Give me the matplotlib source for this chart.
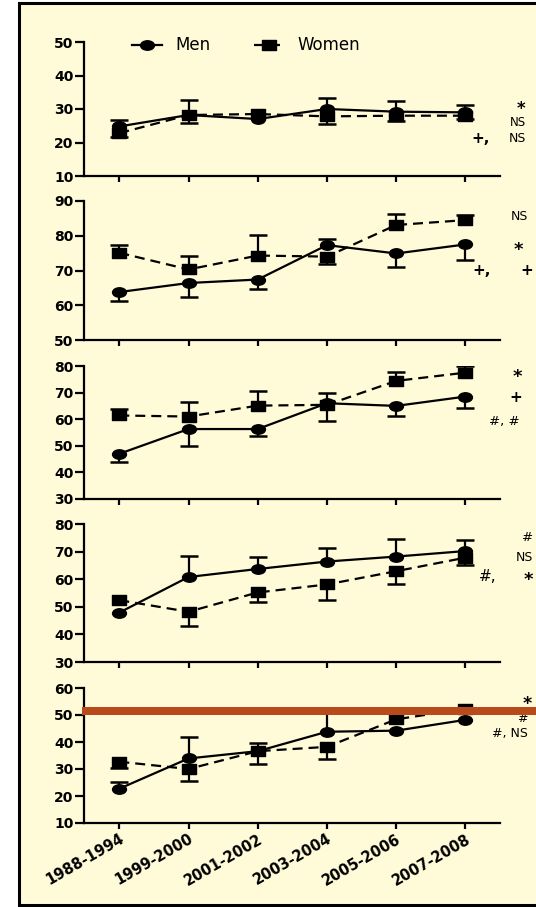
import matplotlib
matplotlib.use('Agg')
import matplotlib.pyplot as plt
import numpy as np
from matplotlib.path import Path
from matplotlib.patches import Rectangle

periods = ['1988-1994', '1999-2000', '2001-2002', '2003-2004', '2005-2006', '2007-2008']

# panel 1
men_a = [24.8, 28.2, 27.0, 30.0, 29.2, 29.0]
men_a_lo = [0, 0, 0, 0, 0, 0]
men_a_hi = [2.0, 4.4, 0, 3.4, 3.3, 2.3]
women_a = [22.8, 28.2, 28.5, 27.8, 28.0, 28.0]
women_a_lo = [1.3, 2.4, 0, 2.4, 1.7, 1.1]
women_a_hi = [0, 0, 0, 0, 0, 0]

# panel 2
men_b = [63.8, 66.4, 67.4, 77.3, 74.9, 77.5]
men_b_lo = [2.6, 4.0, 2.8, 0, 3.8, 4.5]
men_b_hi = [0, 0, 0, 1.9, 0, 0]
women_b = [75.1, 70.3, 74.3, 74.0, 83.1, 84.5]
women_b_lo = [0, 0, 0, 2.2, 0, 0]
women_b_hi = [2.2, 3.9, 5.9, 0, 3.2, 1.5]

# panel 3
men_c = [47.0, 56.3, 56.3, 66.0, 65.0, 68.5]
men_c_lo = [3.0, 6.5, 2.8, 6.5, 3.7, 4.4]
men_c_hi = [0, 0, 0, 0, 0, 0]
women_c = [61.4, 61.0, 65.1, 65.4, 74.4, 77.5]
women_c_lo = [0, 0, 0, 0, 0, 0]
women_c_hi = [2.4, 5.3, 5.6, 4.6, 3.5, 2.5]

# panel 4
men_d = [47.9, 60.8, 63.7, 66.4, 68.2, 70.2]
men_d_lo = [0, 0, 0, 0, 0, 0]
men_d_hi = [0, 7.6, 4.5, 4.8, 6.3, 4.0]
women_d = [52.4, 48.2, 55.2, 58.1, 62.9, 67.8]
women_d_lo = [0, 5.2, 3.4, 5.7, 4.7, 2.7]
women_d_hi = [0, 0, 0, 0, 0, 0]

# panel 5
men_e = [22.7, 33.9, 36.6, 43.8, 44.2, 48.2]
men_e_lo = [0, 0, 0, 0, 0, 0]
men_e_hi = [2.5, 8.1, 3.2, 8.5, 0, 0]
women_e = [32.7, 30.0, 36.6, 38.2, 48.4, 52.3]
women_e_lo = [2.5, 4.6, 4.6, 4.6, 0, 0]
women_e_hi = [0, 0, 0, 0, 0, 0]

ylims = [(10, 50), (50, 90), (30, 80), (30, 80), (10, 60)]
# significance marks: text, y value, right edge px, size, bold
notes = [
    [('*', 29.9, 525, 12, True), ('NS', 26.1, 526, 8.5, False),
     ('NS', 21.3, 526, 9, False), ('+,', 21.3, 490, 11, True)],
    [('NS', 85.4, 528, 9, False), ('*', 76.0, 523, 13, True),
     ('+,', 70.1, 491, 11, True), ('+', 70.1, 533, 11, True)],
    [('*', 76.0, 522, 13, True), ('+', 68.3, 522, 11, True), ('#, #', 59.0, 520, 9.5, False)],
    [('#', 75.2, 533, 9.5, False), ('NS', 68.0, 533, 9, False),
     ('*', 59.8, 533, 13, True), ('#,', 60.8, 497, 11, False)],
    [('*', 54.0, 532, 12.5, True), ('#', 48.6, 528, 9, False), ('#, NS', 43.3, 528, 9, False)],
]

plt.rcParams['font.family'] = 'DejaVu Sans'

W, H = 536, 907
fig = plt.figure(figsize=(W / 100, H / 100), dpi=100)
fig.patch.set_facecolor('white')

bg = '#fffad8'
fig.add_artist(Rectangle((19 / W, 1 - 905 / H), 1.3, (905 - 3) / H, transform=fig.transFigure,
                         facecolor=bg, edgecolor='black', lw=2.2, zorder=-5))

circ = Path.unit_circle()
ell = Path(circ.vertices * np.array([1.0, 0.68]), circ.codes)
rect = Path([(-1, -0.72), (1, -0.72), (1, 0.72), (-1, 0.72), (-1, -0.72)],
            [Path.MOVETO, Path.LINETO, Path.LINETO, Path.LINETO, Path.CLOSEPOLY])

# panel top/bottom in pixels
boxes = [(42, 176), (201, 340), (366, 499), (524, 662), (688, 823)]
x0, x1 = 84, 500

data = [
    (men_a, men_a_lo, men_a_hi, women_a, women_a_lo, women_a_hi),
    (men_b, men_b_lo, men_b_hi, women_b, women_b_lo, women_b_hi),
    (men_c, men_c_lo, men_c_hi, women_c, women_c_lo, women_c_hi),
    (men_d, men_d_lo, men_d_hi, women_d, women_d_lo, women_d_hi),
    (men_e, men_e_lo, men_e_hi, women_e, women_e_lo, women_e_hi),
]


def series(ax, y, lo, hi, marker, dashed):
    x = np.arange(len(y))
    y = np.array(y)
    lo = np.array(lo)
    hi = np.array(hi)
    kw = dict(color='black', lw=1.6, marker=marker, ms=10, zorder=3)
    if dashed:
        line, = ax.plot(x, y, ls='--', dashes=(4.5, 2.7), **kw)
    else:
        line, = ax.plot(x, y, ls='-', **kw)
    ax.vlines(x, y - lo, y + hi, color='black', lw=1.6, zorder=2)
    m = hi > 0
    ax.plot(x[m], (y + hi)[m], ls='none', marker='_', ms=13, mew=1.8, color='black', zorder=2)
    m = lo > 0
    ax.plot(x[m], (y - lo)[m], ls='none', marker='_', ms=13, mew=1.8, color='black', zorder=2)
    return line


for i, (top, bot) in enumerate(boxes):
    ax = fig.add_axes([x0 / W, 1 - bot / H, (x1 - x0) / W, (bot - top) / H])
    ax.set_facecolor('none')
    men, mlo, mhi, women, wlo, whi = data[i]
    lm = series(ax, men, mlo, mhi, ell, False)
    lw_ = series(ax, women, wlo, whi, rect, True)
    ax.set_xlim(-0.51, 5.5)
    ax.set_ylim(*ylims[i])
    ax.set_yticks(np.arange(ylims[i][0], ylims[i][1] + 1, 10))
    ax.set_xticks(range(len(periods)))
    ax.spines['top'].set_visible(False)
    ax.spines['right'].set_visible(False)
    ax.spines['left'].set_linewidth(1.6)
    ax.spines['bottom'].set_linewidth(1.6)
    ax.tick_params(axis='y', length=6.5, width=1.6, pad=1, labelsize=10)
    ax.tick_params(axis='x', length=4, width=1.6, pad=2)
    for t in ax.get_yticklabels():
        t.set_fontweight('bold')
    if i < 4:
        ax.set_xticklabels([])
    else:
        ax.set_xticklabels(periods, rotation=30, ha='right', rotation_mode='anchor',
                           fontsize=10.5, fontweight='bold')
    for txt, yv, xr, fs, bold in notes[i]:
        ax.text((xr - x0) / (x1 - x0), yv, txt, transform=ax.get_yaxis_transform(),
                ha='right', va='center', fontsize=fs,
                fontweight='bold' if bold else 'normal', clip_on=False)
    if i == 0:
        ax.legend([lm, lw_], ['Men', 'Women'], loc='center left', bbox_to_anchor=(0.1, 0.975),
                  ncol=2, frameon=False, fontsize=12, handlelength=1.8, handletextpad=0.8,
                  columnspacing=2.6, borderaxespad=0)

# orange highlight bar
fig.add_artist(Rectangle((82 / W, 1 - 715 / H), 1.0, 8 / H, transform=fig.transFigure,
                         facecolor='#b94a1c', edgecolor='none', zorder=10))

fig.savefig('out.png', dpi=100, facecolor='white')
